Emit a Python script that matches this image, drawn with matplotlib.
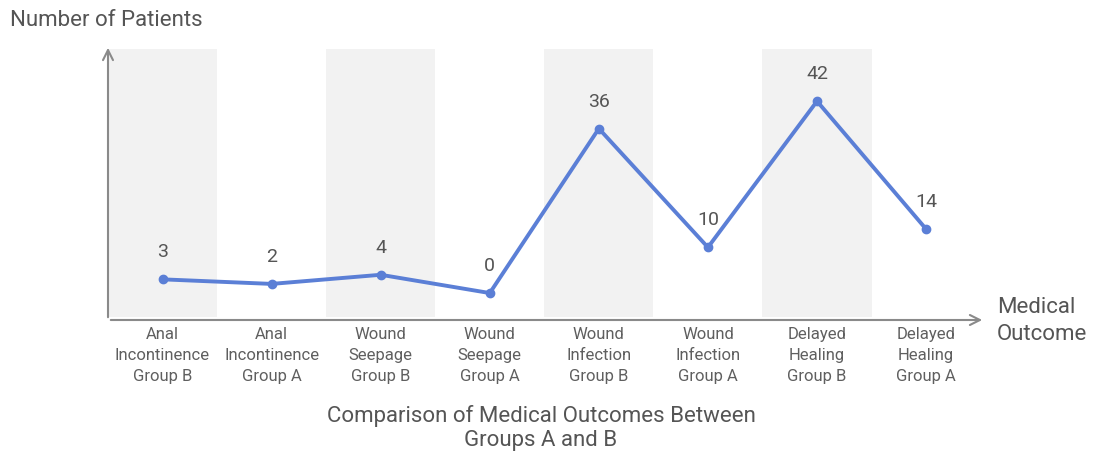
import matplotlib.pyplot as plt

plt.rcParams['font.family'] = ['Roboto', 'DejaVu Sans']

categories = ['Anal\nIncontinence\nGroup B', 'Anal\nIncontinence\nGroup A',
              'Wound\nSeepage\nGroup B', 'Wound\nSeepage\nGroup A',
              'Wound\nInfection\nGroup B', 'Wound\nInfection\nGroup A',
              'Delayed\nHealing\nGroup B', 'Delayed\nHealing\nGroup A']
patients = [3, 2, 4, 0, 36, 10, 42, 14]

line_color = '#5b7fd6'
text_color = '#555555'
axis_color = '#8a8a8a'

fig = plt.figure(figsize=(10.96, 4.57), dpi=100)
ax = fig.add_axes([108 / 1096, 137 / 457, 877 / 1096, 275 / 457])

x = list(range(len(categories)))
ax.set_xlim(-0.5, 7.54)
ax.set_ylim(-5.9, 54.3)

# alternating background bands
for i in x:
    if i % 2 == 0:
        ax.axvspan(i - 0.5, i + 0.5, ymin=0.01, ymax=0.985, color='#f2f2f2', lw=0, zorder=0)

ax.plot(x, patients, color=line_color, lw=2.8, marker='o', ms=6, zorder=3)
for xi, v in zip(x, patients):
    ax.annotate(str(v), (xi, v), xytext=(0, 13), textcoords='offset points',
                ha='center', va='bottom', fontsize=14, color=text_color)

for s in ax.spines.values():
    s.set_visible(False)

# axis arrows
ax.annotate('', xy=(1.0, 0), xytext=(0, 0), xycoords='axes fraction',
            arrowprops=dict(arrowstyle='->', color=axis_color, lw=1.5, mutation_scale=18))
ax.annotate('', xy=(0, 1.0), xytext=(0, 0), xycoords='axes fraction',
            arrowprops=dict(arrowstyle='->', color=axis_color, lw=1.5, mutation_scale=18))

ax.set_yticks([])
ax.set_xticks(x)
ax.set_xticklabels(categories, fontsize=12, color='#5f5f5f', linespacing=1.5)
ax.tick_params(axis='x', length=0, pad=5)

fig.text(10 / 1096, 1 - 20 / 457, 'Number of Patients', fontsize=16, color=text_color,
         ha='left', va='center')
fig.text(997 / 1096, 1 - 321 / 457, 'Medical\nOutcome', fontsize=16, color=text_color,
         ha='left', va='center', linespacing=1.35)
fig.text(541 / 1096, 1 - 428 / 457, 'Comparison of Medical Outcomes Between\nGroups A and B',
         fontsize=16, color=text_color, ha='center', va='center', linespacing=1.22)

fig.savefig('out.png', dpi=100)
